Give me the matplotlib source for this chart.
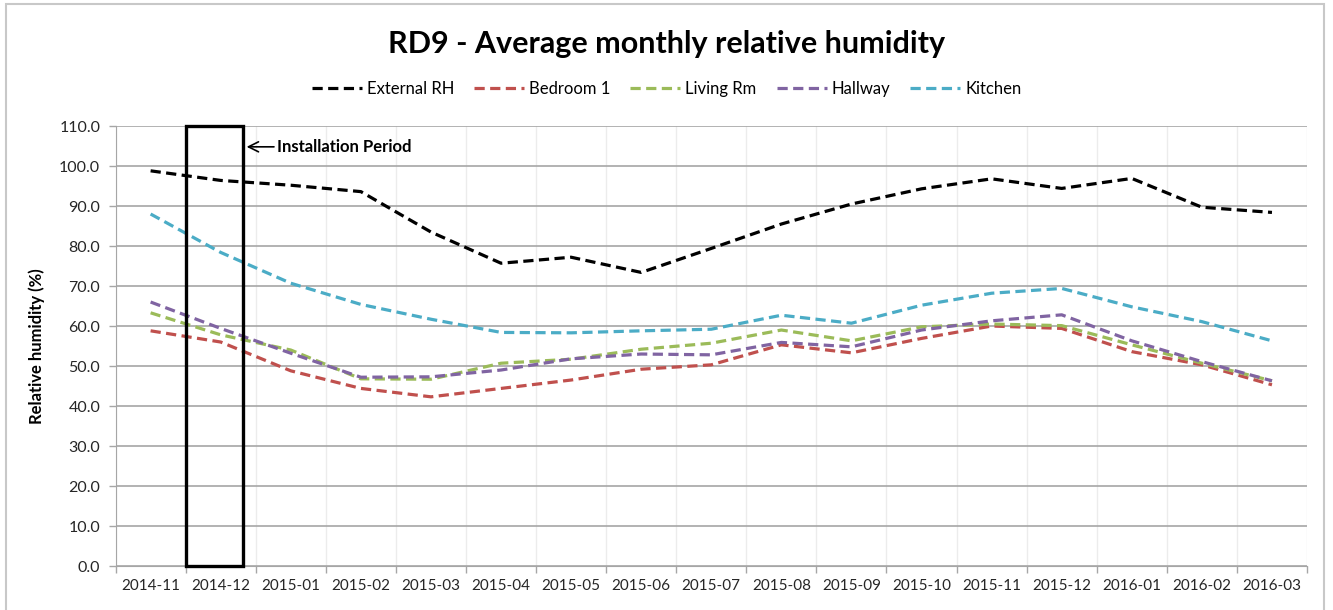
import matplotlib
matplotlib.use("Agg")
import matplotlib.pyplot as plt
from matplotlib.patches import Rectangle
import numpy as np

plt.rcParams['font.family'] = ['Lato', 'DejaVu Sans']

months = ["2014-11", "2014-12", "2015-01", "2015-02", "2015-03", "2015-04",
          "2015-05", "2015-06", "2015-07", "2015-08", "2015-09", "2015-10",
          "2015-11", "2015-12", "2016-01", "2016-02", "2016-03"]

external_rh = [98.8, 96.4, 95.2, 93.6, 83.5, 75.7, 77.2, 73.4, 79.4, 85.5,
               90.5, 94.3, 96.8, 94.4, 96.9, 89.7, 88.4]
bedroom_1 = [58.8, 56.0, 48.8, 44.4, 42.3, 44.4, 46.5, 49.2, 50.3, 55.3,
             53.3, 56.9, 60.0, 59.4, 53.6, 50.3, 45.3]
living_rm = [63.3, 57.8, 54.0, 46.8, 46.7, 50.7, 51.7, 54.2, 55.7, 59.0,
             56.3, 59.8, 60.5, 60.1, 55.3, 50.7, 46.3]
hallway = [66.0, 59.4, 53.2, 47.2, 47.3, 49.0, 51.8, 53.0, 52.8, 55.9,
           54.8, 59.0, 61.3, 62.8, 56.3, 51.1, 46.3]
kitchen = [88.0, 78.4, 70.7, 65.4, 61.7, 58.4, 58.3, 58.8, 59.2, 62.7,
           60.7, 65.2, 68.2, 69.4, 64.8, 61.1, 56.3]

series = [("External RH", external_rh, "#000000"),
          ("Bedroom 1", bedroom_1, "#C0504D"),
          ("Living Rm", living_rm, "#9BBB59"),
          ("Hallway", hallway, "#8064A2"),
          ("Kitchen", kitchen, "#4BACC6")]

fig = plt.figure(figsize=(13.33, 6.10), dpi=100)
ax = fig.add_axes([0.0867, 0.0721, 0.8938, 0.7213])

x = np.arange(len(months))
for name, vals, color in series:
    ax.plot(x, vals, color=color, lw=2.3, linestyle=(0, (3.2, 1.7)),
            label=name, dash_capstyle='butt')

ax.set_xlim(-0.5, len(months) - 0.5)
ax.set_ylim(0, 110)
ax.set_yticks(np.arange(0, 111, 10))
ax.set_yticklabels([f"{v:.1f}" for v in np.arange(0, 111, 10)])
ax.set_xticks(x)
ax.set_xticklabels(months)
ax.set_xticks(np.arange(-0.5, len(months), 1), minor=True)
ax.tick_params(axis='x', which='major', length=0, pad=9, labelsize=11,
               labelcolor='#262626')
ax.tick_params(axis='x', which='minor', length=5, color='#a6a6a6', width=1)
ax.tick_params(axis='y', length=5, color='#a6a6a6', width=1, labelsize=11.5,
               labelcolor='#262626', pad=6)

ax.grid(True, axis='y', color='#a6a6a6', lw=1.2)
ax.grid(True, axis='x', which='minor', color='#ececec', lw=1)
ax.set_axisbelow(True)
for s in ['top', 'right']:
    ax.spines[s].set_visible(False)
for s in ['left', 'bottom']:
    ax.spines[s].set_color('#a6a6a6')

ax.set_ylabel("Relative humidity (%)", fontsize=12, fontweight='bold', labelpad=10)

# installation period box
ax.add_patch(Rectangle((0.5, 0), 0.82, 110, fill=False, ec='black', lw=2.4,
                       clip_on=False, zorder=5))
ax.annotate("Installation Period", xy=(1.37, 104.8), xytext=(1.80, 104.8),
            fontsize=12, fontweight='bold', va='center', ha='left',
            arrowprops=dict(arrowstyle='->', color='black', lw=1.2,
                            shrinkA=0, shrinkB=0, mutation_scale=18))

fig.suptitle("RD9 - Average monthly relative humidity", fontsize=22,
             fontweight='bold', y=0.928, x=0.5, va='center')
fig.legend(loc='center', bbox_to_anchor=(0.5, 0.854), ncol=5, frameon=False,
           fontsize=12, handlelength=3.0, handletextpad=0.3, columnspacing=1.2)

fig.add_artist(Rectangle((6 / 1333, -0.05), 1318 / 1333, 1.05 - 4 / 610,
                         transform=fig.transFigure, fill=False,
                         ec='#c8c8c8', lw=1.5))

fig.savefig("out.png", dpi=100)
